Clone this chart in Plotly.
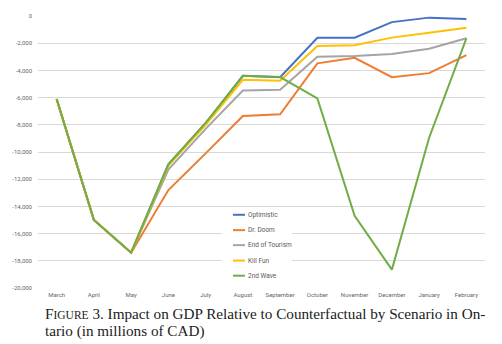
import plotly.graph_objects as go

# Months along the horizontal axis
months = ["March", "April", "May", "June", "July", "August", "September",
          "October", "November", "December", "January", "February"]

# GDP impact relative to counterfactual, millions of CAD
optimistic = [-6100, -15000, -17400, -10900, -7900, -4400, -4500, -1600, -1600, -450, -120, -220]
dr_doom = [-6100, -15000, -17400, -12800, -10100, -7350, -7230, -3480, -3070, -4500, -4200, -2870]
end_of_tourism = [-6100, -15000, -17400, -11300, -8300, -5480, -5420, -2990, -2950, -2800, -2410, -1640]
kill_fun = [-6100, -15000, -17400, -11000, -8000, -4690, -4760, -2200, -2150, -1590, -1230, -870]
second_wave = [-6100, -15000, -17400, -10900, -7850, -4400, -4490, -6060, -14700, -18650, -8950, -1640]

series_names = ["Optimistic", "Dr. Doom", "End of Tourism", "Kill Fun", "2nd Wave"]
series_values = [optimistic, dr_doom, end_of_tourism, kill_fun, second_wave]
series_colors = ["#4472C4", "#ED7D31", "#A5A5A5", "#FFC000", "#70AD47"]

y_tick_values = [0, -2000, -4000, -6000, -8000, -10000, -12000, -14000, -16000, -18000, -20000]
y_tick_labels = ["0", "-2,000", "-4,000", "-6,000", "-8,000", "-10,000", "-12,000",
                 "-14,000", "-16,000", "-18,000", "-20,000"]

caption_line1 = ("F<span style='font-size:11.5px'>IGURE</span> 3. Impact on GDP Relative "
                 "to Counterfactual by Scenario in On-")
caption_line2 = "tario (in millions of CAD)"

fig = go.Figure()
for name, vals, color in zip(series_names, series_values, series_colors):
    fig.add_trace(go.Scatter(
        x=months, y=vals, name=name, mode="lines",
        line=dict(color=color, width=2),
        showlegend=False,
    ))

W, H = 502, 344
ml, mr, mt, mb = 38, 17, 12, 56
pw, ph = W - ml - mr, H - mt - mb


def px_x(px):
    return (px - ml) / pw


def px_y(py):
    return (H - mb - py) / ph


# Legend box, drawn over the grid
shapes = [dict(type="rect", xref="paper", yref="paper",
               x0=px_x(222), x1=px_x(292), y0=px_y(283), y1=px_y(207),
               fillcolor="white", line=dict(width=0), layer="above")]
annotations = []
row_y = [213.7, 229.3, 244.5, 260.2, 275.5]
for name, color, ry in zip(series_names, series_colors, row_y):
    shapes.append(dict(type="line", xref="paper", yref="paper",
                       x0=px_x(233), x1=px_x(245), y0=px_y(ry), y1=px_y(ry),
                       line=dict(color=color, width=2), layer="above"))
    annotations.append(dict(xref="paper", yref="paper", x=px_x(246), y=px_y(ry),
                            text=name, showarrow=False, xanchor="left", yanchor="middle",
                            font=dict(family="Roboto", size=6.5, color="#595959")))

annotations.append(dict(xref="paper", yref="paper", x=px_x(43), y=px_y(303),
                        text=caption_line1, showarrow=False, xanchor="left", yanchor="top",
                        font=dict(family="Liberation Serif", size=15.2, color="#222222")))
annotations.append(dict(xref="paper", yref="paper", x=px_x(43), y=px_y(320),
                        text=caption_line2, showarrow=False, xanchor="left", yanchor="top",
                        font=dict(family="Liberation Serif", size=15.2, color="#222222")))

fig.update_layout(
    width=W, height=H,
    margin=dict(l=ml, r=mr, t=mt, b=mb),
    paper_bgcolor="white", plot_bgcolor="white",
    shapes=shapes, annotations=annotations,
    xaxis=dict(type="category", range=[-0.5, 11.5], showgrid=False, zeroline=False,
               showline=False, ticks="", tickfont=dict(family="Roboto", size=6, color="#666666"),
               ticklabelstandoff=2),
    yaxis=dict(range=[-20000, 0], tickvals=y_tick_values, ticktext=y_tick_labels,
               showgrid=True, gridcolor="#D9D9D9", gridwidth=1, zeroline=False,
               showline=False, ticks="", ticklabelstandoff=5,
               tickfont=dict(family="Roboto", size=6, color="#666666")),
)

fig.write_html("out.html")
